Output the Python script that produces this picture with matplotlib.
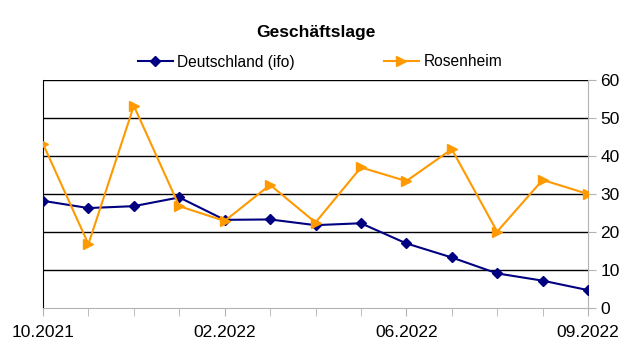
import matplotlib.pyplot as plt
import numpy as np

plt.rcParams['font.family'] = ['Liberation Sans', 'DejaVu Sans']

# months from 10.2021, only some are labelled on the axis
tick_pos = [0, 4, 8, 12]
tick_labels = ['10.2021', '02.2022', '06.2022', '09.2022']

deutschland = [28.2, 26.3, 26.8, 29.1, 23.2, 23.3, 21.8, 22.3, 17.0, 13.3, 9.1, 7.2, 4.7]
rosenheim = [43.2, 16.8, 53.2, 26.8, 22.9, 32.4, 22.5, 37.0, 33.4, 41.8, 20.1, 33.7, 30.0]

x = np.arange(len(deutschland))

fig = plt.figure(figsize=(6.36, 3.59), dpi=100)
ax = fig.add_axes([43 / 636, 1 - 308 / 359, 545 / 636, 228 / 359])

# horizontal grid
for v in range(10, 70, 10):
    ax.axhline(v, color='black', lw=1, zorder=1)

ax.plot(x, deutschland, color='#000080', lw=1.5, marker='D', ms=5,
        label='Deutschland (ifo)', zorder=3)
ax.plot(x, rosenheim, color='#ff9900', lw=1.5, marker='>', ms=7,
        label='Rosenheim', zorder=3)

ax.set_xlim(0, 12)
ax.set_ylim(0, 60)

ax.set_xticks(np.arange(13), minor=True)
ax.set_xticks(tick_pos)
ax.set_xticklabels(tick_labels, fontsize=12.5)
ax.tick_params(axis='x', which='both', length=6, color='#b3b3b3', pad=6)

ax.yaxis.tick_right()
ax.set_yticks(range(0, 70, 10))
ax.tick_params(axis='y', length=6, color='#b3b3b3', labelsize=12.5, pad=3)

ax.spines['top'].set_visible(False)
ax.spines['left'].set_color('black')
ax.spines['right'].set_color('#b3b3b3')
ax.spines['bottom'].set_color('#b3b3b3')

fig.text(316 / 636, 1 - 33 / 359, 'Geschäftslage', ha='center', va='center',
         fontsize=12.5, fontweight='bold')

fig.legend(loc='center', bbox_to_anchor=(320 / 636, 1 - 62 / 359), ncol=2,
           frameon=False, fontsize=11.2, handlelength=2.25, handletextpad=0.32,
           columnspacing=5.7, borderpad=0, borderaxespad=0)

fig.savefig('out.png', dpi=100)
